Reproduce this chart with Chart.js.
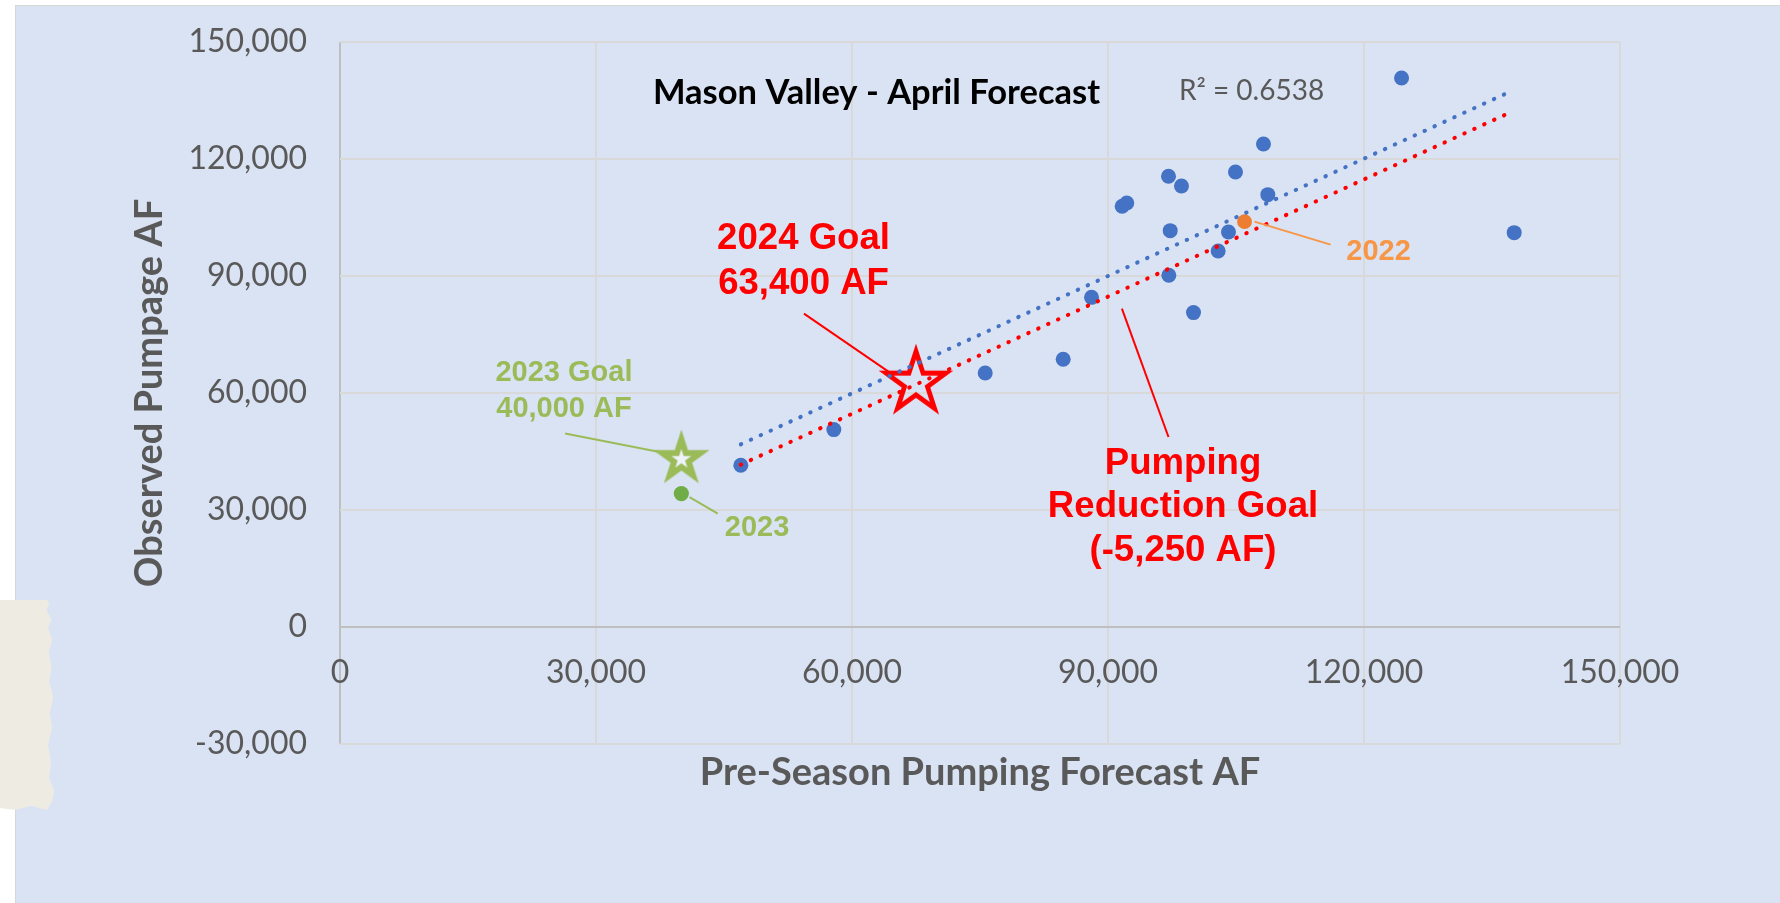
<!DOCTYPE html>
<html>
<head>
<meta charset="utf-8">
<script src="https://cdn.jsdelivr.net/npm/chart.js@4.4.1/dist/chart.umd.min.js"></script>
<style>
html,body{margin:0;padding:0;background:#ffffff;width:1780px;height:903px;overflow:hidden}
#bg{position:absolute;left:15px;top:5px;right:0;bottom:0;background:#dae3f3;border-top:1px solid #d6d6d6;border-left:1px solid #d6d6d6}
#tape{position:absolute;left:0;top:600px;width:56px;height:210px;background:#eeebe2;
clip-path:polygon(0 0,84% 0,88% 2%,83% 5%,92% 9%,86% 13%,93% 19%,87% 25%,92% 32%,88% 39%,95% 46%,89% 54%,93% 61%,86% 69%,91% 77%,88% 85%,97% 91%,93% 96%,84% 100%,55% 98%,28% 100%,0 99%)}
#wrap{position:absolute;left:0;top:0;width:1780px;height:903px}
</style>
</head>
<body>
<div id="bg"></div>
<div id="tape"></div>
<div id="wrap"><canvas id="c" width="1780" height="903"></canvas></div>
<script>
// ---- data (acre-feet) ----
const forecastAF = [46970, 57870, 75610, 84750, 88070, 91660, 92200, 97090, 98610, 97290, 97130, 100020, 102910, 104120, 104940, 108220, 108730, 124400, 137600];
const observedAF = [41460, 50610, 65130, 68640, 84530, 107870, 108710, 115560, 113070, 101630, 90180, 80610, 96410, 101280, 116660, 123840, 110860, 140760, 101120];
const forecast2022 = [106000];
const observed2022 = [103940];
const forecast2023 = [40000];
const observed2023 = [34200];
const goal2023X = [40000];
const goal2023Y = [43000];
const goal2024X = [67500];
const goal2024Y = [62600];
const trendX = [46970, 136900];
const trendBlueY = [46840, 137040];
const trendRedY = [41620, 131700];
const xTicks = [0, 30000, 60000, 90000, 120000, 150000];
const yTicks = [-30000, 0, 30000, 60000, 90000, 120000, 150000];

const pts = (xs, ys) => xs.map((x, i) => ({x, y: ys[i]}));

function starCanvas(R, ratio, lw, stroke, fill) {
  const size = 2 * Math.ceil(R + lw * 2 + 4);
  const c = document.createElement('canvas');
  c.width = size; c.height = size;
  const g = c.getContext('2d');
  const cx = size / 2, cy = size / 2;
  g.beginPath();
  for (let i = 0; i < 10; i++) {
    const a = -Math.PI / 2 + i * Math.PI / 5;
    const rr = i % 2 ? R * ratio : R;
    const px = cx + rr * Math.cos(a), py = cy + rr * Math.sin(a);
    if (i === 0) g.moveTo(px, py); else g.lineTo(px, py);
  }
  g.closePath();
  if (fill) { g.fillStyle = fill; g.fill(); }
  g.lineJoin = 'miter'; g.miterLimit = 10;
  g.lineWidth = lw; g.strokeStyle = stroke; g.stroke();
  return c;
}
const redStar = starCanvas(31.5, 0.382, 4.8, '#ff0000', null);
const greenStar = starCanvas(20, 0.382, 6, '#9bbb59', '#eef2f9');

const notes = [
  {text: ['Mason Valley - April Forecast'], at: [62870, 134200], font: 'bold 34.5px Lato', color: '#000000', lh: 0},
  {text: ['R\u00B2 = 0.6538'], at: [106820, 135220], font: '28px Lato', color: '#595959', lh: 0},
  {text: ['2024 Goal', '63,400 AF'], at: [54320, 97020], font: 'bold 36.6px "Liberation Sans"', color: '#ff0000', lh: 45},
  {text: ['2023 Goal', '40,000 AF'], at: [26250, 63070], font: 'bold 29px "Liberation Sans"', color: '#9bbb59', lh: 36},
  {text: ['2023'], at: [48870, 23330], font: 'bold 29px "Liberation Sans"', color: '#9bbb59', lh: 0},
  {text: ['2022'], at: [121700, 94020], font: 'bold 29px "Liberation Sans"', color: '#f79646', lh: 0},
  {text: ['Pumping', 'Reduction Goal', '(-5,250 AF)'], at: [98790, 39330], font: 'bold 36.6px "Liberation Sans"', color: '#ff0000', lh: 43.5}
];
const leaders = [
  {from: [54370, 80350], to: [64400, 65300], color: '#ff0000'},
  {from: [26380, 49590], to: [37440, 44870], color: '#9bbb59'},
  {from: [40960, 33330], to: [44270, 29080], color: '#9bbb59'},
  {from: [107170, 103940], to: [116080, 98050], color: '#f79646'},
  {from: [91630, 81640], to: [97090, 48720], color: '#ff0000'}
];

const annotate = {
  id: 'annotate',
  afterDatasetsDraw(chart) {
    const {ctx, scales: {x, y}} = chart;
    ctx.save();
    leaders.forEach(l => {
      ctx.beginPath();
      ctx.moveTo(x.getPixelForValue(l.from[0]), y.getPixelForValue(l.from[1]));
      ctx.lineTo(x.getPixelForValue(l.to[0]), y.getPixelForValue(l.to[1]));
      ctx.lineWidth = 2; ctx.strokeStyle = l.color; ctx.stroke();
    });
    notes.forEach(n => {
      ctx.font = n.font; ctx.fillStyle = n.color;
      ctx.textAlign = 'center'; ctx.textBaseline = 'alphabetic';
      const px = x.getPixelForValue(n.at[0]);
      const py = y.getPixelForValue(n.at[1]);
      n.text.forEach((t, i) => ctx.fillText(t, px, py + i * n.lh));
    });
    ctx.restore();
  }
};

const gridColor = c => (c.tick && c.tick.value === 0) ? '#bfbfbf' : '#d9d9d9';
const fmt = v => Number(v).toLocaleString('en-US');

new Chart(document.getElementById('c'), {
  type: 'scatter',
  data: {
    datasets: [
      {label: 'Trend', type: 'line', data: pts(trendX, trendBlueY), borderColor: '#4472c4', borderWidth: 4,
       borderDash: [0.5, 10.4], borderCapStyle: 'round', pointRadius: 0, fill: false, order: 0},
      {label: 'Reduction goal', type: 'line', data: pts(trendX, trendRedY), borderColor: '#ff0000', borderWidth: 4,
       borderDash: [0.5, 10.4], borderCapStyle: 'round', pointRadius: 0, fill: false, order: 0},
      {label: 'Observed', data: pts(forecastAF, observedAF), backgroundColor: '#4472c4', borderWidth: 0, pointRadius: 7.5, order: 3},
      {label: '2022', data: pts(forecast2022, observed2022), backgroundColor: '#ed7d31', borderWidth: 0, pointRadius: 7.4, order: 2},
      {label: '2023', data: pts(forecast2023, observed2023), backgroundColor: '#70ad47', borderWidth: 0, pointRadius: 7.6, order: 2},
      {label: '2023 Goal', data: pts(goal2023X, goal2023Y), pointStyle: greenStar, order: 1},
      {label: '2024 Goal', data: pts(goal2024X, goal2024Y), pointStyle: redStar, order: 1}
    ]
  },
  options: {
    responsive: false,
    animation: false,
    events: [],
    layout: {padding: {left: 0, top: 42, right: 160, bottom: 159}},
    plugins: {legend: {display: false}, tooltip: {enabled: false}, title: {display: false}},
    scales: {
      x: {
        type: 'linear', min: xTicks[0], max: xTicks[xTicks.length - 1],
        position: {y: 0},
        afterBuildTicks: s => { s.ticks = xTicks.map(v => ({value: v})); },
        afterFit: s => { s.height = 169; s.paddingLeft = 0; s.paddingRight = 0; },
        grid: {color: gridColor, lineWidth: 2, drawTicks: false},
        border: {display: false},
        ticks: {padding: 26, color: '#595959', font: {family: 'Lato', size: 32}, maxRotation: 0, autoSkip: false, callback: fmt},
        title: {display: true, text: 'Pre-Season Pumping Forecast AF', color: '#595959',
                font: {family: 'Lato', size: 38, weight: 'bold', lineHeight: 1.2}, padding: 0}
      },
      y: {
        type: 'linear', min: yTicks[0], max: yTicks[yTicks.length - 1],
        position: 'left',
        afterBuildTicks: s => { s.ticks = yTicks.map(v => ({value: v})); },
        afterFit: s => { s.width = 340; s.paddingTop = 0; s.paddingBottom = 0; },
        grid: {color: gridColor, lineWidth: 2, drawTicks: false},
        border: {display: false},
        ticks: {padding: 33, color: '#595959', font: {family: 'Lato', size: 32}, autoSkip: false, callback: fmt},
        title: {display: true, text: 'Observed Pumpage AF', color: '#595959',
                font: {family: 'Lato', size: 38, weight: 'bold', lineHeight: 1.2}, padding: {top: 127, bottom: 0}}
      }
    }
  },
  plugins: [annotate]
});
</script>
</body>
</html>
